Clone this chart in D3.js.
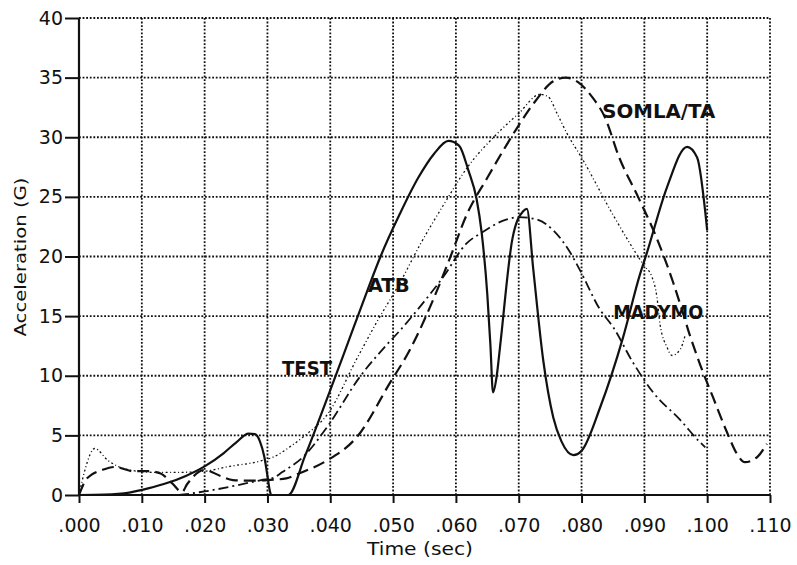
<!DOCTYPE html>
<html>
<head>
<meta charset="utf-8">
<script src="https://cdn.jsdelivr.net/npm/d3@7"></script>
<style>
  html, body { margin: 0; padding: 0; background: #fff; }
  svg { display: block; }
  text { fill: #111; }
</style>
</head>
<body>
<svg id="chart" width="797" height="565"></svg>
<script>
// Time axis (sec) and acceleration axis (G)
const xTicks = [0, .010, .020, .030, .040, .050, .060, .070, .080, .090, .100, .110];
const xTickLabels = [".000", ".010", ".020", ".030", ".040", ".050", ".060", ".070", ".080", ".090", ".100", ".110"];
const yTicks = [0, 5, 10, 15, 20, 25, 30, 35, 40];
const yTickLabels = ["0", "5", "10", "15", "20", "25", "30", "35", "40"];

// [time, acceleration] pairs for each response curve
const testSeries = [
  [0, 0], [.004, .03], [.008, .2], [.011, .55], [.014, 1.0], [.017, 1.6], [.020, 2.4],
  [.023, 3.5], [.025, 4.4], [.027, 5.15], [.028, 5.1], [.0288, 4.5], [.0295, 3.2],
  [.0300, 1.6], [.0304, .3], [.0306, 0], [.0333, 0], [.036, 3.3], [.040, 8.8],
  [.042, 11.6], [.0458, 17.0], [.048, 20.0], [.0511, 23.6], [.054, 26.6], [.0565, 28.6],
  [.0588, 29.7], [.0605, 29.3], [.062, 27.2], [.0633, 24.8], [.0641, 22], [.065, 16.8],
  [.0655, 12.5], [.0659, 8.6], [.0665, 10], [.067, 12.3], [.069, 21.5], [.0707, 23.8],
  [.0713, 24], [.0723, 19], [.0739, 11.3], [.0755, 6.5], [.0768, 4.5], [.0787, 3.35],
  [.080, 3.7], [.083, 7.4], [.0866, 13.2], [.0893, 18.5], [.0904, 20.3], [.0936, 25.8],
  [.0968, 29.2], [.0984, 28.3], [.1000, 22.2]
];
const atbSeries = [
  [0, 0], [.001, 2.2], [.0025, 3.9], [.0046, 2.9], [.008, 2.1], [.012, 1.9], [.016, 1.9],
  [.020, 2.0], [.024, 2.4], [.0285, 2.8], [.031, 3.2], [.034, 4.2], [.036, 5.0],
  [.0396, 6.8], [.0443, 11.5], [.0474, 14.5], [.0511, 17.8], [.0543, 21], [.058, 24.3],
  [.062, 27.6], [.066, 30.0], [.070, 32.0], [.0734, 33.6], [.0747, 33.4], [.0761, 32],
  [.0777, 30.3], [.080, 28.3], [.085, 23.5], [.090, 19.2], [.0912, 18.3], [.092, 16.6],
  [.0925, 14.3], [.0936, 12.4], [.0944, 11.7], [.0957, 12.2], [.0965, 13.4]
];
const somlaSeries = [
  [0, 0], [.001, 1.2], [.002, 1.7], [.0037, 2.1], [.0057, 2.35], [.0086, 2.0], [.011, 2.0],
  [.013, 1.8], [.0148, 1.0], [.0164, .25], [.0172, .9], [.020, 2.1], [.0225, 1.6],
  [.0245, 1.25], [.027, 1.2], [.030, 1.25], [.033, 1.4], [.035, 1.8], [.0395, 2.9],
  [.0443, 4.9], [.0495, 9.4], [.0527, 12.2], [.0564, 16.4], [.059, 19.8], [.0618, 23.6],
  [.065, 26.6], [.068, 29.3], [.070, 31.0], [.0726, 33.0], [.0755, 34.7], [.0775, 35],
  [.0795, 34.6], [.0818, 33.3], [.0837, 31.7], [.086, 28.3], [.089, 25], [.092, 21.5],
  [.0946, 17.8], [.096, 15.5], [.0973, 13.3], [.0989, 10.9], [.101, 8.1], [.1032, 5.2],
  [.1048, 3.4], [.106, 2.75], [.108, 3.2], [.1095, 4.3]
];
const madymoSeries = [
  [0, 0], [.015, 0], [.020, .3], [.025, .8], [.029, 1.25], [.031, 1.45], [.0323, 1.9],
  [.0357, 3.2], [.0395, 5.7], [.0447, 9.9], [.049, 12.6], [.0511, 13.8], [.0543, 15.8],
  [.058, 18.3], [.0617, 21.1], [.0641, 22], [.068, 23.1], [.070, 23.3], [.0729, 23.1],
  [.0755, 22.2], [.078, 20.5], [.0797, 18.9], [.083, 15.5], [.085, 14.1], [.0882, 11.1],
  [.0914, 8.6], [.0957, 6.3], [.0989, 4.4], [.0997, 4.0]
];

const curveNames = ["TEST", "ATB", "SOMLA/TA", "MADYMO"];

const svg = d3.select("#chart");
const x = d3.scaleLinear().domain([0, .110]).range([79, 770]);
const y = d3.scaleLinear().domain([0, 40]).range([495, 18]);

// dotted grid
const grid = svg.append("g").attr("stroke", "#111").attr("stroke-width", 1.8)
  .attr("stroke-dasharray", "1.8,1.8").attr("fill", "none");
grid.selectAll("line.v").data(xTicks.slice(1)).join("line")
  .attr("class", "v")
  .attr("x1", d => x(d)).attr("x2", d => x(d))
  .attr("y1", y(40)).attr("y2", y(0));
grid.selectAll("line.h").data(yTicks.slice(1)).join("line")
  .attr("class", "h")
  .attr("x1", x(0)).attr("x2", x(.110))
  .attr("y1", d => y(d)).attr("y2", d => y(d));

// axes
const xAxis = d3.axisBottom(x).tickValues(xTicks)
  .tickFormat((d, i) => xTickLabels[i]).tickSize(8).tickPadding(16);
const yAxis = d3.axisLeft(y).tickValues(yTicks)
  .tickFormat((d, i) => yTickLabels[i]).tickSize(14).tickPadding(2);

const gx = svg.append("g").attr("transform", `translate(0,${y(0)})`).call(xAxis);
const gy = svg.append("g").attr("transform", `translate(${x(0)},0)`).call(yAxis);
[gx, gy].forEach(g => {
  g.select(".domain").attr("stroke", "#111").attr("stroke-width", 2.2);
  g.selectAll(".tick line").attr("stroke", "#111").attr("stroke-width", 2);
  g.selectAll(".tick text").attr("fill", "#111")
    .style("font-family", "'DejaVu Sans', sans-serif").style("font-size", "19px");
});
gx.select(".domain").attr("d", `M${x(0)},0H${x(.110)}`);
gy.select(".domain").attr("d", `M0,${y(0)}V${y(40)}`);

// axis titles
svg.append("text").attr("x", 420).attr("y", 555).attr("text-anchor", "middle")
  .attr("textLength", 106).attr("lengthAdjust", "spacingAndGlyphs")
  .style("font-family", "'DejaVu Sans', sans-serif").style("font-size", "17px")
  .text("Time (sec)");
svg.append("text").attr("transform", "translate(26,257) rotate(-90)")
  .attr("text-anchor", "middle")
  .attr("textLength", 159).attr("lengthAdjust", "spacingAndGlyphs")
  .style("font-family", "'DejaVu Sans', sans-serif").style("font-size", "16px")
  .text("Acceleration (G)");

// curves
const line = d3.line().x(d => x(d[0])).y(d => y(d[1])).curve(d3.curveMonotoneX);
const curves = [
  { data: testSeries, dash: null, w: 2.2 },
  { data: atbSeries, dash: "2,2.5,1,2.5", w: 1.3 },
  { data: somlaSeries, dash: "12,6", w: 2.2 },
  { data: madymoSeries, dash: "10,4,2,4", w: 1.8 }
];
svg.append("g").attr("fill", "none").attr("stroke", "#111")
  .selectAll("path").data(curves).join("path")
  .attr("d", d => line(d.data))
  .attr("stroke-width", d => d.w)
  .attr("stroke-dasharray", d => d.dash)
  .attr("stroke-linejoin", "round");

// curve labels
const labels = [
  { text: curveNames[0], t: .0363, v: 10.06, len: 50 },
  { text: curveNames[1], t: .0493, v: 17.0, len: 42 },
  { text: curveNames[2], t: .0923, v: 31.6, len: 113 },
  { text: curveNames[3], t: .0922, v: 14.8, len: 90 }
];
svg.append("g").selectAll("text").data(labels).join("text")
  .attr("x", d => x(d.t)).attr("y", d => y(d.v))
  .attr("text-anchor", "middle")
  .attr("textLength", d => d.len).attr("lengthAdjust", "spacingAndGlyphs")
  .style("font-family", "'DejaVu Sans', sans-serif").style("font-weight", "bold")
  .style("font-size", "19px")
  .text(d => d.text);
</script>
</body>
</html>
